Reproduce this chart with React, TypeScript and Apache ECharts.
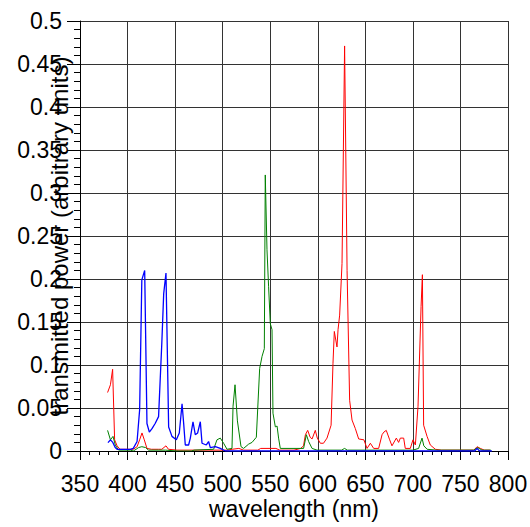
import React, { useEffect, useRef } from "react";
import * as echarts from "echarts";

// Red series (wavelength nm, transmitted power)
const redX = [379, 382, 384.3, 386.4, 389, 392, 400, 406, 410, 412.7, 415.2, 417.6, 420.4, 425, 432.7, 436, 440.4, 443, 452, 470, 490, 505, 510, 517, 522, 537, 540, 556, 560, 575, 582, 585, 587, 589.4, 592, 594, 597.4, 599.5, 602.7, 606, 609.7, 614, 616, 617.4, 620.2, 621.3, 623, 625.5, 628.2, 630.8, 633.5, 636, 639.5, 643, 648.5, 651.8, 655.3, 658.8, 664, 667.6, 669.5, 672, 675.6, 678, 682.6, 685, 686.8, 690.3, 692, 697.3, 700.1, 702.6, 705.4, 708.6, 710, 711.3, 714.9, 718.3, 723.6, 730, 764, 767.5, 771, 775, 781];
const redY = [0.068, 0.077, 0.095, 0.013, 0.006, 0.002, 0.002, 0.002, 0.005, 0.013, 0.021, 0.013, 0.003, 0.002, 0.002, 0.002, 0.006, 0.002, 0.001, 0.001, 0.001, 0.001, 0.002, 0.003, 0.001, 0.001, 0.003, 0.003, 0.001, 0.001, 0.003, 0.006, 0.019, 0.024, 0.016, 0.014, 0.024, 0.015, 0.009, 0.009, 0.015, 0.030, 0.102, 0.139, 0.121, 0.141, 0.158, 0.218, 0.471, 0.210, 0.059, 0.036, 0.026, 0.014, 0.013, 0.003, 0.009, 0.003, 0.003, 0.019, 0.022, 0.024, 0.013, 0.006, 0.015, 0.010, 0.015, 0.015, 0.003, 0.003, 0.013, 0.007, 0.052, 0.168, 0.205, 0.030, 0.017, 0.007, 0.002, 0.001, 0.001, 0.005, 0.003, 0.001, 0.001];

// Green series
const greenX = [379, 382, 384.7, 387.1, 390.6, 403, 406, 409, 411.6, 415, 419, 422, 440, 452, 467, 470, 490.5, 494, 497.5, 501, 504.6, 509.8, 510.9, 513, 515.5, 519.3, 522, 527.3, 530.9, 535.4, 538.9, 541.4, 543.8, 544.8, 546.6, 548.3, 550.1, 551.9, 552.9, 555.4, 557.2, 558.8, 560.6, 585.1, 588, 590.4, 594, 599.2, 625, 628.2, 631, 700, 706, 709.6, 711.5, 715, 725, 764, 768, 772.7, 782];
const greenY = [0.024, 0.013, 0.017, 0.007, 0.001, 0.001, 0.0, 0.002, 0.004, 0.005, 0.004, 0.001, 0.001, 0.0, 0.0, 0.001, 0.002, 0.013, 0.015, 0.009, 0.002, 0.003, 0.052, 0.077, 0.035, 0.005, 0.003, 0.008, 0.010, 0.016, 0.096, 0.110, 0.119, 0.321, 0.234, 0.191, 0.148, 0.141, 0.044, 0.028, 0.029, 0.015, 0.003, 0.003, 0.019, 0.011, 0.003, 0.001, 0.001, 0.003, 0.001, 0.001, 0.003, 0.015, 0.006, 0.002, 0.001, 0.001, 0.004, 0.001, 0.001];

// Blue series
const blueX = [379.4, 382, 384.5, 387, 389, 403, 406, 410, 412.7, 415, 418, 420.4, 422.9, 425.7, 429, 432.6, 436, 438, 440.4, 443.2, 446.7, 451.3, 454.4, 457.3, 459, 460.7, 464.2, 466, 468.8, 471.2, 473.7, 476.5, 478.3, 482.8, 485.2, 487, 492.3, 497.5, 502.8, 600, 700, 765, 767.5, 770, 783];
const blueY = [0.0097, 0.013, 0.010, 0.004, 0.002, 0.002, 0.003, 0.011, 0.048, 0.199, 0.21, 0.032, 0.022, 0.026, 0.032, 0.040, 0.125, 0.183, 0.207, 0.028, 0.017, 0.013, 0.021, 0.055, 0.032, 0.007, 0.007, 0.015, 0.034, 0.019, 0.021, 0.034, 0.009, 0.007, 0.011, 0.004, 0.005, 0.003, 0.0, 0.0, 0.0, 0.0, 0.003, 0.0, 0.0];

const xTitle = "wavelength (nm)";
const yTitle = "transmitted power (arbitrary units)";

const zip = (xs: number[], ys: number[]) => xs.map((x, i) => [x, ys[i]]);

const FONT = "Liberation Sans, Arial, sans-serif";

export default function App() {
  const ref = useRef<HTMLDivElement>(null);
  useEffect(() => {
    if (!ref.current) return;
    const chart = echarts.init(ref.current, null, { renderer: "svg" });
    const gridColor = "#333";
    chart.setOption({
      animation: false,
      backgroundColor: "#fff",
      grid: {
        left: 80,
        top: 21,
        right: 22,
        bottom: 76,
        containLabel: false,
        outerBoundsMode: "none",
      },
      xAxis: {
        type: "value",
        min: 350,
        max: 800,
        interval: 50,
        name: xTitle,
        nameLocation: "middle",
        nameGap: 46,
        nameMoveOverlap: false,
        nameTextStyle: { fontSize: 23, color: "#000", fontFamily: FONT },
        axisLine: { show: true, onZero: false, lineStyle: { color: "#000", width: 1 } },
        axisTick: { show: true, inside: false, length: 9, lineStyle: { color: "#000" } },
        minorTick: { show: true, splitNumber: 5, length: 4, lineStyle: { color: "#000" } },
        axisLabel: { fontSize: 23, color: "#000", fontFamily: FONT, margin: 21, hideOverlap: false },
        splitLine: { show: true, lineStyle: { color: gridColor, width: 1 } },
      },
      yAxis: {
        type: "value",
        min: 0,
        max: 0.5,
        interval: 0.05,
        name: yTitle,
        nameLocation: "middle",
        nameGap: 9,
        nameMoveOverlap: false,
        nameTextStyle: { fontSize: 24, color: "#000", fontFamily: FONT },
        axisLine: { show: true, lineStyle: { color: "#000", width: 1 } },
        axisTick: { show: true, inside: false, length: 13, lineStyle: { color: "#000" } },
        minorTick: { show: true, splitNumber: 5, length: 6, lineStyle: { color: "#000" } },
        axisLabel: { fontSize: 23, color: "#000", fontFamily: FONT, margin: 18, hideOverlap: false },
        splitLine: { show: true, lineStyle: { color: gridColor, width: 1 } },
      },
      series: [
        {
          type: "line",
          data: zip(redX, redY),
          showSymbol: false,
          symbol: "none",
          lineStyle: { color: "#ff0000", width: 1 },
          itemStyle: { color: "#ff0000" },
        },
        {
          type: "line",
          data: zip(greenX, greenY),
          showSymbol: false,
          symbol: "none",
          lineStyle: { color: "#008000", width: 1 },
          itemStyle: { color: "#008000" },
        },
        {
          type: "line",
          data: zip(blueX, blueY),
          showSymbol: false,
          symbol: "none",
          lineStyle: { color: "#0000ff", width: 1.3 },
          itemStyle: { color: "#0000ff" },
        },
      ],
    });
    return () => chart.dispose();
  }, []);
  return (
    <div
      ref={ref}
      style={{ position: "fixed", left: 0, top: 0, width: 530, height: 527 }}
    />
  );
}
